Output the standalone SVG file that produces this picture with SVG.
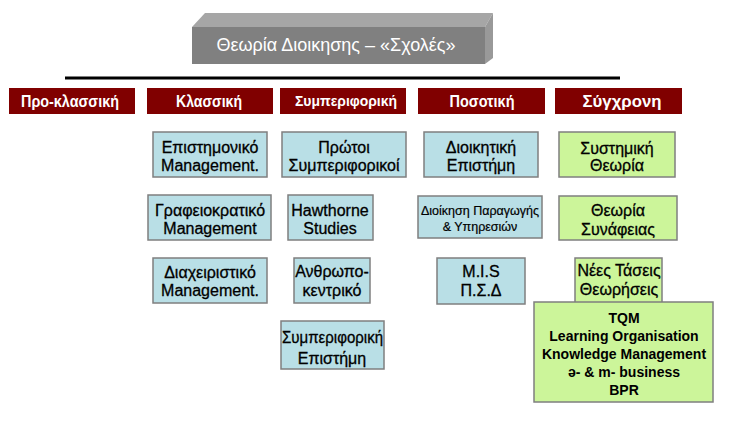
<svg xmlns="http://www.w3.org/2000/svg" width="732" height="430" viewBox="0 0 732 430">
<style>
text{font-family:"Liberation Sans",Arial,sans-serif;text-anchor:middle}
.hd rect{fill:#800000}
.hd text{fill:#fff;font-weight:bold;font-size:17px}
.bl rect{fill:#b9dfe6;stroke:#7f7f7f;stroke-width:1.5}
.gr rect{fill:#ccf59a;stroke:#7f7f7f;stroke-width:1.5}
.bx text{fill:#000;font-size:16px;stroke:#000;stroke-width:0.3px}
.big text{font-weight:bold;font-size:14px;stroke:none}
</style>
<rect width="732" height="430" fill="#fff"/>
<g id="title">
<polygon points="192,27 205,13 493,13 485,27" fill="#a6a6a6"/>
<polygon points="485,27 493,13 493,58 485,64" fill="#999999"/>
<rect x="192" y="27" width="293" height="37" fill="#808080"/>
<text x="336" y="51" fill="#fff" font-size="18px">Θεωρία Διοικησης – «Σχολές»</text>
</g>
<g id="connectors">
<line x1="65" y1="78" x2="620" y2="78" stroke="#000" stroke-width="3"/>
</g>
<g id="h1" class="hd"><rect x="9" y="88" width="126" height="26"/><text x="70" y="107" textLength="98" lengthAdjust="spacingAndGlyphs">Προ-κλασσική</text></g>
<g id="h2" class="hd"><rect x="147" y="88" width="126" height="26"/><text x="209" y="107" textLength="66" lengthAdjust="spacingAndGlyphs">Κλασσική</text></g>
<g id="h3" class="hd"><rect x="280" y="88" width="126" height="26"/><text x="346" y="106" style="font-size:14px" textLength="102" lengthAdjust="spacingAndGlyphs">Συμπεριφορική</text></g>
<g id="h4" class="hd"><rect x="418" y="88" width="127" height="26"/><text x="482" y="107" textLength="65" lengthAdjust="spacingAndGlyphs">Ποσοτική</text></g>
<g id="h5" class="hd"><rect x="555" y="88" width="127" height="26"/><text x="622" y="107" textLength="79" lengthAdjust="spacingAndGlyphs">Σύγχρονη</text></g>

<g id="b1" class="bx bl"><rect x="153" y="132" width="114" height="45"/><text x="210" y="153">Επιστημονικό</text><text x="210" y="171">Management.</text></g>
<g id="b2" class="bx bl"><rect x="148" y="195" width="123" height="45"/><text x="210" y="216">Γραφειοκρατικό</text><text x="210" y="234">Management</text></g>
<g id="b3" class="bx bl"><rect x="153" y="258" width="114" height="45"/><text x="210" y="278">Διαχειριστικό</text><text x="210" y="296">Management.</text></g>

<g id="b4" class="bx bl"><rect x="282" y="132" width="124" height="45"/><text x="344" y="153">Πρώτοι</text><text x="344" y="171">Συμπεριφορικοί</text></g>
<g id="b5" class="bx bl"><rect x="288" y="195" width="85" height="45"/><text x="330" y="216">Hawthorne</text><text x="330" y="234">Studies</text></g>
<g id="b6" class="bx bl"><rect x="294" y="258" width="76" height="45"/><text x="332" y="277">Ανθρωπο-</text><text x="332" y="296">κεντρικό</text></g>
<g id="b7" class="bx bl"><rect x="281" y="321" width="103" height="48"/><text x="332.5" y="343" textLength="101" lengthAdjust="spacingAndGlyphs">Συμπεριφορική</text><text x="332" y="364">Επιστήμη</text></g>

<g id="b8" class="bx bl"><rect x="424" y="132" width="114" height="45"/><text x="481" y="153">Διοικητική</text><text x="481" y="171">Επιστήμη</text></g>
<g id="b9" class="bx bl"><rect x="418" y="196" width="124" height="42"/><text x="480" y="215" style="font-size:12.5px;stroke-width:0.2px">Διοίκηση Παραγωγής</text><text x="480" y="231" style="font-size:12.5px;stroke-width:0.2px">&amp; Υπηρεσιών</text></g>
<g id="b10" class="bx bl"><rect x="437" y="258" width="88" height="46"/><text x="481" y="277">M.I.S</text><text x="481" y="296">Π.Σ.Δ</text></g>

<g id="b11" class="bx gr"><rect x="559" y="132" width="116" height="45"/><text x="617" y="154">Συστημική</text><text x="617" y="171">Θεωρία</text></g>
<g id="b12" class="bx gr"><rect x="559" y="196" width="118" height="44"/><text x="618" y="216">Θεωρία</text><text x="618" y="235">Συνάφειας</text></g>
<g id="b13" class="bx gr"><rect x="575" y="258" width="87" height="50"/><text x="619" y="276">Νέες Τάσεις</text><text x="619" y="295">Θεωρήσεις</text></g>
<g id="b14" class="bx gr big"><rect x="534" y="302" width="179" height="100"/>
<text x="624" y="323">TQM</text>
<text x="624" y="341">Learning Organisation</text>
<text x="624" y="359">Knowledge Management</text>
<text x="624" y="377">ə- &amp; m- business</text>
<text x="624" y="395">BPR</text></g>
</svg>
